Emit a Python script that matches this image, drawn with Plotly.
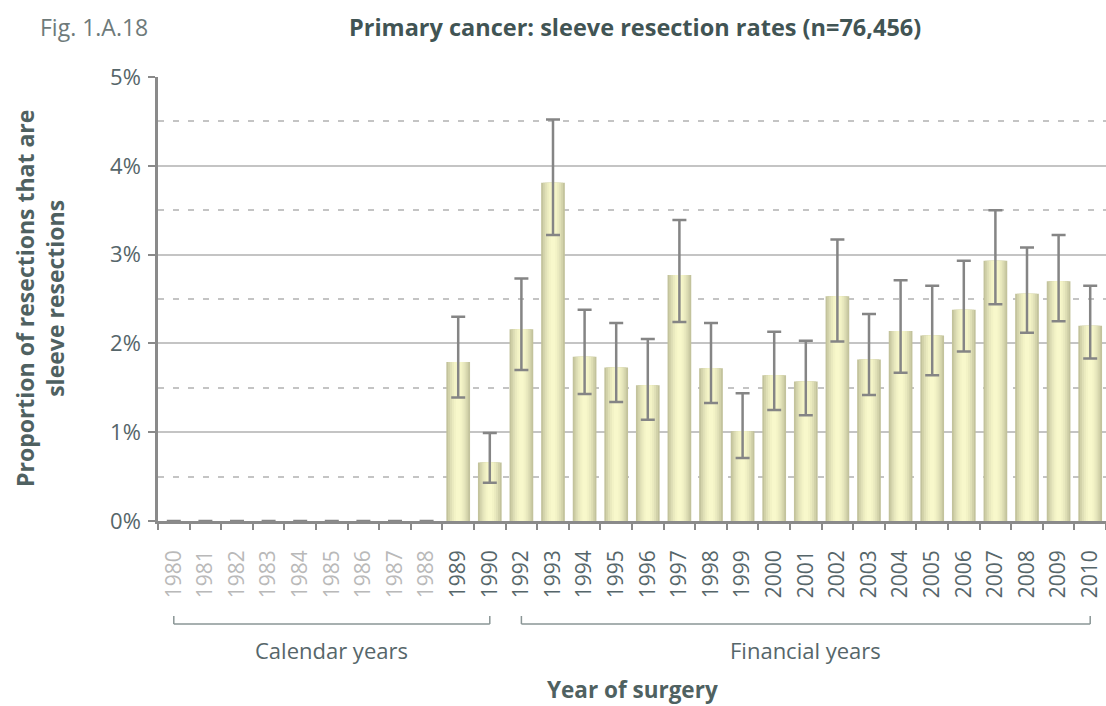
import plotly.graph_objects as go

years = ["1980", "1981", "1982", "1983", "1984", "1985", "1986", "1987", "1988", "1989", "1990",
         "1992", "1993", "1994", "1995", "1996", "1997", "1998", "1999", "2000", "2001",
         "2002", "2003", "2004", "2005", "2006", "2007", "2008", "2009", "2010"]
rate = [0, 0, 0, 0, 0, 0, 0, 0, 0, 1.79, 0.66,
        2.16, 3.81, 1.85, 1.73, 1.53, 2.77, 1.72, 1.01, 1.64, 1.57,
        2.53, 1.82, 2.14, 2.09, 2.38, 2.93, 2.56, 2.70, 2.20]
ci_upper = [0, 0, 0, 0, 0, 0, 0, 0, 0, 2.30, 0.99,
            2.73, 4.52, 2.38, 2.23, 2.05, 3.39, 2.23, 1.44, 2.13, 2.03,
            3.17, 2.33, 2.71, 2.65, 2.93, 3.50, 3.08, 3.22, 2.65]
ci_lower = [0, 0, 0, 0, 0, 0, 0, 0, 0, 1.39, 0.43,
            1.70, 3.22, 1.43, 1.34, 1.14, 2.24, 1.33, 0.71, 1.25, 1.19,
            2.02, 1.42, 1.67, 1.64, 1.91, 2.44, 2.12, 2.25, 1.83]
faded_years = ["1980", "1981", "1982", "1983", "1984", "1985", "1986", "1987", "1988"]
calendar_span = ["1980", "1990"]
financial_span = ["1992", "2010"]
y_ticks = [0, 1, 2, 3, 4, 5]
y_tick_labels = ["0%", "1%", "2%", "3%", "4%", "5%"]

FONT = "Open Sans"
DARK = "#415454"
MID = "#56666a"
GRID = "#c4c4c4"
AXIS = "#8a8a8a"

err_plus = [u - v for u, v in zip(ci_upper, rate)]
err_minus = [v - l for v, l in zip(rate, ci_lower)]
has_err = [u > 0 for u in ci_upper]

fig = go.Figure()

# layered bars to imitate the cylindrical gradient
layers = [(0.75, "#c3c39c"), (0.64, "#d2d2aa"), (0.52, "#dfdfb6"),
          (0.40, "#eaeabf"), (0.27, "#f3f3c6"), (0.14, "#f8f8cb")]
for w, c in layers:
    fig.add_trace(go.Bar(x=years, y=rate, width=w, marker=dict(color=c, line=dict(width=0)),
                         showlegend=False, hoverinfo="skip"))

fig.add_trace(go.Bar(
    x=years, y=rate, width=0.75, marker=dict(color="rgba(0,0,0,0)", line=dict(width=0)),
    showlegend=False,
    error_y=dict(type="data", symmetric=False,
                 array=[e if h else None for e, h in zip(err_plus, has_err)],
                 arrayminus=[e if h else None for e, h in zip(err_minus, has_err)],
                 color="#858585", thickness=2.5, width=7, visible=True),
))

ticktext = [f"<span style='color:#b9b9b9'>{y}</span>" if y in faded_years
            else f"<span style='color:{MID}'>{y}</span>" for y in years]

fig.update_layout(
    width=1106, height=706,
    barmode="overlay",
    plot_bgcolor="white", paper_bgcolor="white",
    margin=dict(l=158, r=0, t=77, b=185),
    font=dict(family=FONT, color=MID, size=20),
    xaxis=dict(
        type="category", tickmode="array", tickvals=years, ticktext=ticktext,
        tickangle=-90, tickfont=dict(size=21, family=FONT), ticklabelstandoff=18,
        showline=True, linecolor=AXIS, linewidth=2.5,
        ticks="outside", tickson="boundaries", ticklen=6, tickwidth=2, tickcolor=AXIS,
        showgrid=False, range=[-0.5, 29.5],
    ),
    yaxis=dict(
        range=[0, 5], tickvals=y_ticks, ticktext=y_tick_labels,
        tickfont=dict(size=22, family=FONT, color=MID), ticklabelstandoff=3,
        showline=True, linecolor=AXIS, linewidth=2.5,
        ticks="outside", ticklen=7, tickwidth=2, tickcolor=AXIS,
        showgrid=True, gridcolor=GRID, gridwidth=2, zeroline=False,
        minor=dict(dtick=0.5, showgrid=True, gridcolor=GRID, gridwidth=2, griddash="6px,9px"),
    ),
)

idx = {y: i for i, y in enumerate(years)}
cal_mid = (idx[calendar_span[0]] + idx[calendar_span[1]]) / 2
fin_mid = (idx[financial_span[0]] + idx[financial_span[1]]) / 2

annotations = [
    dict(text="<b>Primary cancer: sleeve resection rates (n=76,456)</b>", xref="paper", yref="paper",
         x=(635 - 158) / 948, y=(521 - 27) / 444, xanchor="center", yanchor="middle", showarrow=False,
         font=dict(size=23.5, color=DARK, family=FONT)),
    dict(text="Fig. 1.A.18", xref="paper", yref="paper", x=(38 - 158) / 948, y=(521 - 27) / 444,
         xanchor="left", yanchor="middle", showarrow=False,
         font=dict(size=23, color="#6e7a7a", family=FONT)),
    dict(text="<b>Proportion of resections that are<br>sleeve resections</b>", xref="paper", yref="paper",
         x=(40 - 158) / 948, y=0.5, xanchor="center", yanchor="middle", textangle=-90, showarrow=False,
         font=dict(size=23, color="#4f6161", family=FONT)),
    dict(text="Calendar years", xref="x", yref="paper", x=cal_mid, y=(521 - 650) / 444,
         xanchor="center", yanchor="middle", showarrow=False, font=dict(size=22, color=MID, family=FONT)),
    dict(text="Financial years", xref="x", yref="paper", x=fin_mid, y=(521 - 650) / 444,
         xanchor="center", yanchor="middle", showarrow=False, font=dict(size=22, color=MID, family=FONT)),
    dict(text="<b>Year of surgery</b>", xref="paper", yref="paper", x=(632 - 158) / 948, y=(521 - 689) / 444,
         xanchor="center", yanchor="middle", showarrow=False, font=dict(size=22.5, color="#4f6161", family=FONT)),
]
fig.update_layout(annotations=annotations)

yb = (521 - 624) / 444
yt = (521 - 616) / 444
for a, b in [calendar_span, financial_span]:
    ia, ib = idx[a], idx[b]
    fig.add_shape(type="line", xref="x", yref="paper", x0=ia, x1=ib, y0=yb, y1=yb,
                  line=dict(color="#8a9696", width=1.5))
    for e in (ia, ib):
        fig.add_shape(type="line", xref="x", yref="paper", x0=e, x1=e, y0=yb, y1=yt,
                      line=dict(color="#8a9696", width=1.5))

fig.write_html("out.html", config={"displayModeBar": False},
               post_script="document.body.style.margin='0';document.body.style.overflow='hidden';")
